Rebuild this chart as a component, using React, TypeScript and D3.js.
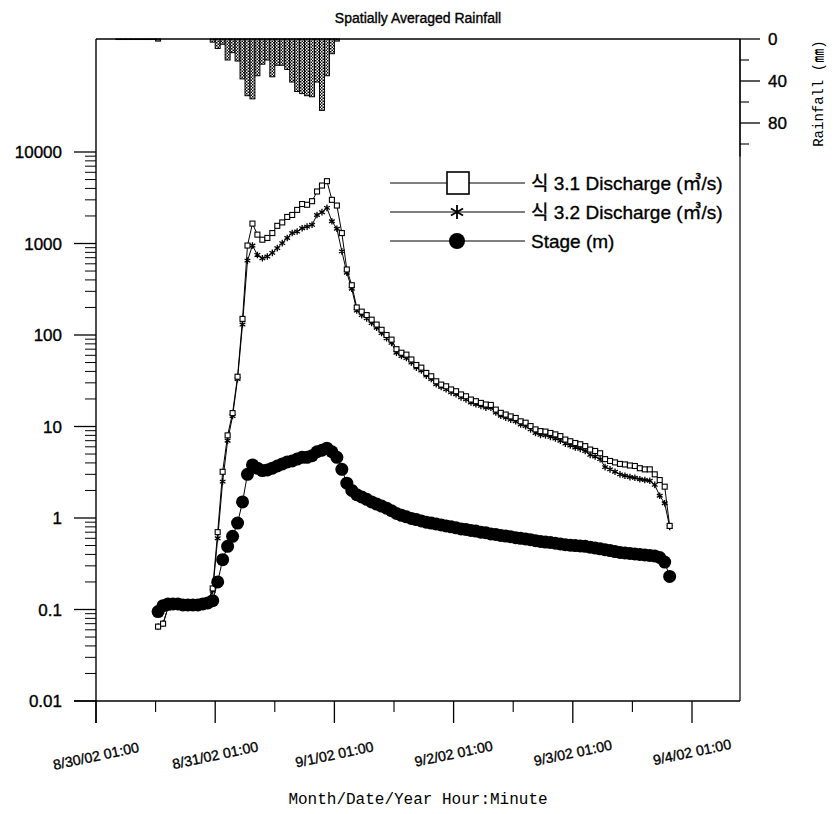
import React from 'react';
import * as d3 from 'd3';

// ---------------- DATA ----------------
// hourly series starting 8/30/02 13:30
const seriesStart = new Date(2002, 7, 30, 13, 30);
const discharge31 = [
  0.065, 0.07, 0.105, 0.11, 0.11, 0.11, 0.11, 0.11, 0.11, 0.115,
  0.12, 0.17, 0.7, 3.2, 8.0, 14, 35, 150, 950, 1650,
  1250, 1100, 1150, 1300, 1560, 1700, 1950, 2050, 2330, 2700,
  2650, 2900, 3700, 4300, 4800, 3000, 2600, 1300, 520, 350,
  200, 180, 165, 147, 130, 114, 100, 89, 70, 64,
  61, 54, 47, 44, 38.5, 35.4, 31.2, 28.7, 27.5, 25.4,
  24.3, 22.4, 21.4, 19.7, 18.9, 18.1, 17.4, 17.2, 15.3, 14.1,
  13.5, 12.9, 12.4, 11.4, 11.0, 10.1, 9.3, 8.9, 8.8, 8.5,
  8.2, 7.85, 7.2, 6.9, 6.6, 6.4, 6.1, 5.6, 5.4, 5.1,
  4.4, 4.2, 4.05, 3.9, 3.85, 3.75, 3.7, 3.5, 3.4, 3.4,
  3.0, 2.6, 2.2, 0.82,
];
const discharge32 = [
  0.065, 0.07, 0.105, 0.11, 0.11, 0.11, 0.11, 0.11, 0.11, 0.115,
  0.12, 0.16, 0.6, 2.5, 7.0, 13, 33, 130, 650, 950,
  750, 690, 720, 790, 890, 1010, 1150, 1300, 1350, 1470,
  1530, 1600, 2050, 2200, 2450, 1750, 1450, 820, 480, 320,
  185, 165, 152, 135, 120, 105, 92, 82, 64, 59,
  56, 50, 44, 41, 36, 33, 29, 27, 25.5, 23.6,
  22.5, 20.8, 19.8, 18.3, 17.5, 16.8, 16.1, 16.0, 14.2, 13.1,
  12.5, 11.9, 11.4, 10.5, 10.1, 9.3, 8.5, 8.1, 8.0, 7.7,
  7.4, 7.0, 6.5, 6.2, 5.9, 5.7, 5.4, 4.9, 4.7, 4.4,
  3.6, 3.4, 3.2, 3.0, 2.9, 2.8, 2.75, 2.65, 2.6, 2.55,
  2.3, 1.75, 1.45, 0.8,
];
const stage = [
  0.095, 0.11, 0.115, 0.115, 0.115, 0.112, 0.112, 0.112, 0.112, 0.115,
  0.118, 0.125, 0.2, 0.35, 0.49, 0.63, 0.88, 1.5, 3.0, 3.8,
  3.5, 3.3, 3.35, 3.5, 3.7, 3.9, 4.1, 4.2, 4.4, 4.6,
  4.6, 4.8, 5.3, 5.5, 5.8, 5.3, 4.6, 3.4, 2.4, 2.0,
  1.8, 1.7, 1.6, 1.5, 1.42, 1.35, 1.28, 1.2, 1.12, 1.07,
  1.03, 0.99, 0.96, 0.93, 0.9, 0.88, 0.86, 0.84, 0.82, 0.8,
  0.78, 0.76, 0.75, 0.73, 0.72, 0.7, 0.69, 0.67, 0.66, 0.645,
  0.635, 0.625, 0.61, 0.6, 0.59, 0.58, 0.565, 0.555, 0.545, 0.54,
  0.53, 0.52, 0.51, 0.505, 0.5, 0.495, 0.49, 0.48, 0.47, 0.46,
  0.45, 0.44, 0.43, 0.42, 0.415, 0.41, 0.405, 0.4, 0.395, 0.39,
  0.385, 0.37, 0.33, 0.23,
];
// hourly rainfall (mm) starting 8/30/02 01:00
const rainStart = new Date(2002, 7, 30, 1, 0);
const rainfall = [
  0, 0, 0, 0, 0.5, 0.5, 0.5, 0.5, 0.5, 0.5,
  0.5, 0.5, 2, 0, 0, 0, 0, 0, 0, 0,
  0, 0, 0, 3, 9, 5, 20, 13, 21, 38,
  54, 57, 35, 24, 20, 36, 25, 25, 29, 41,
  50, 52, 54, 55, 41, 68, 35, 14, 2, 0,
];
const xTickDates = [
  new Date(2002, 7, 30, 1), new Date(2002, 7, 31, 1), new Date(2002, 8, 1, 1),
  new Date(2002, 8, 2, 1), new Date(2002, 8, 3, 1), new Date(2002, 8, 4, 1),
];
const xTickLabels = ['8/30/02 01:00', '8/31/02 01:00', '9/1/02 01:00', '9/2/02 01:00', '9/3/02 01:00', '9/4/02 01:00'];
const xMinorDates = [
  new Date(2002, 7, 30, 13), new Date(2002, 7, 31, 13), new Date(2002, 8, 1, 13),
  new Date(2002, 8, 2, 13), new Date(2002, 8, 3, 13),
];
const yTickValues = [0.01, 0.1, 1, 10, 100, 1000, 10000];
const yTickLabels = ['0.01', '0.1', '1', '10', '100', '1000', '10000'];
const rainMajorTicks = [0, 40, 80];
const rainMinorTicks = [20, 60, 100];
const legendLabels = ['식 3.1 Discharge (㎥/s)', '식 3.2 Discharge (㎥/s)', 'Stage (m)'];
const chartTitle = 'Spatially Averaged Rainfall';
const xAxisTitle = 'Month/Date/Year Hour:Minute';
const rainAxisTitle = 'Rainfall (㎜)';

// ---------------- LAYOUT ----------------
const W = 837, H = 814;
const LEFT = 96, RIGHT = 740, TOP = 39, BOTTOM = 701;
const SANS = "'Liberation Sans', Arial, 'Noto Sans CJK KR', sans-serif";
const MONO = "'Liberation Mono', 'Courier New', 'Noto Sans CJK KR', monospace";
const INK = { fill: '#000', stroke: '#000', strokeWidth: 0.35 };

const HOUR = 3600 * 1000;

function starPath(cx: number, cy: number, r: number) {
  const t = r / 2, u = t * Math.sqrt(3);
  return `M${cx},${cy - r}L${cx},${cy + r}M${cx - u},${cy - t}L${cx + u},${cy + t}M${cx - u},${cy + t}L${cx + u},${cy - t}`;
}

export default function App() {
  const x = d3.scaleTime()
    .domain([new Date(2002, 7, 30, 1), new Date(2002, 8, 4, 1)])
    .range([LEFT, 692]);
  const y = d3.scaleLog().domain([0.01, 10000]).range([BOTTOM, 152]);
  const rainY = d3.scaleLinear().domain([0, 100]).range([TOP, TOP + 105]);

  const times = discharge31.map((_, i) => new Date(seriesStart.getTime() + i * HOUR));
  const mk = (vals: number[]) => vals.map((v, i) => ({ t: times[i], v }));
  const s31 = mk(discharge31);
  const s32 = mk(discharge32);
  const sSt = mk(stage);

  const line = d3.line<{ t: Date; v: number }>().x(d => x(d.t)).y(d => y(d.v));

  const minorY: number[] = [];
  for (let e = -2; e < 4; e++) {
    for (let k = 2; k <= 9; k++) minorY.push(k * Math.pow(10, e));
  }

  return (
    <svg width={W} height={H} style={{ position: 'absolute', left: 0, top: 0 }}>
      <defs>
        <pattern id="stip" width="3" height="3" patternUnits="userSpaceOnUse">
          <rect width="3" height="3" fill="#fff" />
          <rect x="0" y="0" width="1.5" height="1.5" fill="#000" />
          <rect x="1.5" y="1.5" width="1.5" height="1.5" fill="#000" />
        </pattern>
      </defs>
      <rect width={W} height={H} fill="#fff" />

      {/* title */}
      <text x={418} y={23} textAnchor="middle" fontFamily={SANS} fontSize={14} {...INK}>{chartTitle}</text>

      {/* rainfall bars */}
      {rainfall.map((v, i) => {
        if (v <= 0) return null;
        const t0 = new Date(rainStart.getTime() + i * HOUR);
        const t1 = new Date(rainStart.getTime() + (i + 1) * HOUR);
        return (
          <rect key={'r' + i} x={x(t0)} y={TOP} width={x(t1) - x(t0)} height={rainY(v) - TOP}
            fill="url(#stip)" stroke="#000" strokeWidth={1} />
        );
      })}

      {/* frame */}
      <line x1={LEFT} x2={RIGHT} y1={TOP} y2={TOP} stroke="#000" strokeWidth={1.4} />
      <line x1={RIGHT} x2={RIGHT} y1={TOP} y2={BOTTOM} stroke="#000" strokeWidth={1.2} />
      <line x1={LEFT} x2={LEFT} y1={TOP} y2={BOTTOM + 22} stroke="#000" strokeWidth={1.4} />
      <line x1={LEFT - 22} x2={RIGHT} y1={BOTTOM} y2={BOTTOM} stroke="#000" strokeWidth={1.4} />

      {/* left axis ticks */}
      {yTickValues.map((v, i) => (
        <g key={'yt' + i}>
          <line x1={LEFT - 22} x2={LEFT} y1={y(v)} y2={y(v)} stroke="#000" strokeWidth={1.3} />
          <text x={62} y={y(v)} dy="0.36em" textAnchor="end" fontFamily={SANS} fontSize={17} {...INK}>{yTickLabels[i]}</text>
        </g>
      ))}
      {minorY.map((v, i) => (
        <line key={'ym' + i} x1={LEFT - 11} x2={LEFT} y1={y(v)} y2={y(v)} stroke="#000" strokeWidth={1} />
      ))}

      {/* x axis ticks */}
      {xTickDates.map((d, i) => (
        <g key={'xt' + i}>
          <line x1={x(d)} x2={x(d)} y1={BOTTOM} y2={BOTTOM + 22} stroke="#000" strokeWidth={1.3} />
          <text transform={`translate(${x(d)},${756 - i * 0.8}) rotate(-12)`} dy="0.35em" textAnchor="middle"
            fontFamily={SANS} fontSize={14.3} {...INK}>{xTickLabels[i]}</text>
        </g>
      ))}
      {xMinorDates.map((d, i) => (
        <line key={'xm' + i} x1={x(d)} x2={x(d)} y1={BOTTOM} y2={BOTTOM + 11} stroke="#000" strokeWidth={1.1} />
      ))}
      <text x={418} y={804} textAnchor="middle" fontFamily={MONO} fontSize={16} fill="#000">{xAxisTitle}</text>

      {/* right rainfall axis */}
      <line x1={RIGHT} x2={RIGHT} y1={TOP} y2={rainY(112)} stroke="#000" strokeWidth={1.2} />
      {rainMajorTicks.map((v, i) => (
        <g key={'rt' + i}>
          <line x1={RIGHT} x2={RIGHT + 20} y1={rainY(v)} y2={rainY(v)} stroke="#000" strokeWidth={1.3} />
          <text x={768} y={rainY(v)} dy="0.36em" fontFamily={SANS} fontSize={17} {...INK}>{v}</text>
        </g>
      ))}
      {rainMinorTicks.map((v, i) => (
        <line key={'rm' + i} x1={RIGHT} x2={RIGHT + 9} y1={rainY(v)} y2={rainY(v)} stroke="#000" strokeWidth={1.1} />
      ))}
      <text transform={`translate(818,${rainY(52)}) rotate(-90)`} textAnchor="middle" dy="0.35em"
        fontFamily={MONO} fontSize={14} fill="#000">{rainAxisTitle}</text>

      {/* series: discharge 3.2 (stars) */}
      <path d={line(s32) || ''} fill="none" stroke="#000" strokeWidth={1} />
      {s32.map((d, i) => (
        <path key={'s2' + i} d={starPath(x(d.t), y(d.v), 3.3)} stroke="#000" strokeWidth={1.3} fill="none" />
      ))}
      {/* discharge 3.1 (squares) */}
      <path d={line(s31) || ''} fill="none" stroke="#000" strokeWidth={1} />
      {s31.map((d, i) => (
        <rect key={'s1' + i} x={x(d.t) - 2.5} y={y(d.v) - 2.5} width={5} height={5} fill="#fff" stroke="#000" strokeWidth={1.1} />
      ))}
      {/* stage (circles) */}
      <path d={line(sSt) || ''} fill="none" stroke="#000" strokeWidth={1} />
      {sSt.map((d, i) => (
        <circle key={'st' + i} cx={x(d.t)} cy={y(d.v)} r={6.5} fill="#000" />
      ))}

      {/* legend */}
      {legendLabels.map((lab, i) => {
        const ly = 183 + i * 29;
        return (
          <g key={'lg' + i}>
            <line x1={390} x2={525} y1={ly} y2={ly} stroke="#000" strokeWidth={1} />
            {i === 0 && <rect x={447} y={ly - 11} width={22} height={22} fill="#fff" stroke="#000" strokeWidth={1.6} />}
            {i === 1 && <path d={starPath(457, ly, 7)} stroke="#000" strokeWidth={1.8} fill="none" />}
            {i === 2 && <circle cx={457} cy={ly} r={8} fill="#000" />}
            <text x={531} y={ly} dy="0.36em" fontFamily={SANS} fontSize={19} {...INK}>{lab}</text>
          </g>
        );
      })}
    </svg>
  );
}
